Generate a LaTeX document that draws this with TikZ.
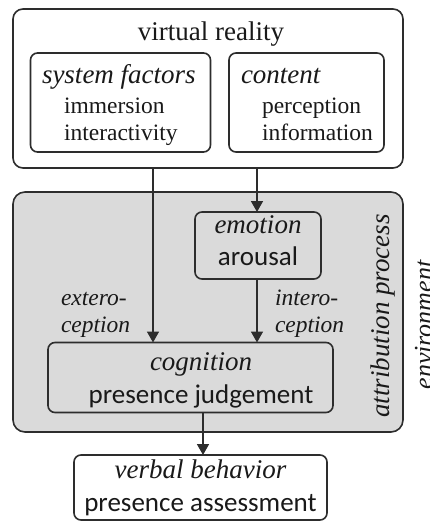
\documentclass[tikz,border=0pt]{standalone}
\usepackage{fontspec}
\setmainfont{Liberation Serif}
\newfontfamily\calib{Carlito}
\usetikzlibrary{arrows.meta}
\definecolor{ln}{RGB}{45,45,45}
\definecolor{gfill}{RGB}{218,218,218}
\definecolor{tx}{RGB}{25,25,25}
\tikzset{
  box/.style={draw=ln, line width=1.6pt, rounded corners=7pt, inner sep=0pt, outer sep=0pt},
  txt/.style={inner sep=0pt, outer sep=0pt, text=tx, font=\fontsize{27}{30}\selectfont},
  itm/.style={txt, font=\fontsize{23.5}{28}\selectfont},
  itx/.style={txt, font=\fontsize{27}{30}\selectfont\itshape},
  stx/.style={txt, font=\fontsize{27}{30}\selectfont\calib},
  lbl/.style={txt, font=\fontsize{23.5}{28}\selectfont\itshape},
  arr/.style={draw=ln, line width=1.6pt, -{Triangle[width=12pt,length=11pt]}},
}
\begin{document}
\begin{tikzpicture}[x=1pt,y=-1pt]
\useasboundingbox (0,0) rectangle (429,522);
% boxes
\node[box, rounded corners=10pt, fill=white, minimum width=390pt, minimum height=159pt] (vr) at (208,88.5) {};
\node[box, minimum width=180pt, minimum height=99pt] (sf) at (120.5,102.5) {};
\node[box, minimum width=155pt, minimum height=99pt] (ct) at (306.5,102.5) {};
\node[box, rounded corners=12pt, fill=gfill, minimum width=390pt, minimum height=240pt] (ap) at (208,312) {};
\node[box, minimum width=126pt, minimum height=67pt] (emo) at (258,245.5) {};
\node[box, minimum width=285pt, minimum height=70pt] (cog) at (190.5,377.5) {};
\node[box, fill=white, minimum width=253pt, minimum height=65pt] (vb) at (200.5,487.5) {};
% texts
\node[txt, anchor=base] (t1) at (211,40) {virtual reality};
\node[itx, anchor=base west] (t2) at (42,83) {system factors};
\node[itm, anchor=base west] (t3) at (64,113) {immersion};
\node[itm, anchor=base west] (t4) at (64,140) {interactivity};
\node[itx, anchor=base west] (t5) at (241,83) {content};
\node[itm, anchor=base west] (t6) at (262,113) {perception};
\node[itm, anchor=base west] (t7) at (262,140) {information};
\node[itx, anchor=base] (t8) at (258,233) {emotion};
\node[stx, anchor=base] (t9) at (258,265) {arousal};
\node[lbl, anchor=base west] (t10) at (61,305) {extero-};
\node[lbl, anchor=base west] (t11) at (61,332) {ception};
\node[lbl, anchor=base west] (t12) at (275,305) {intero-};
\node[lbl, anchor=base west] (t13) at (275,332) {ception};
\node[itx, anchor=base] (t14) at (201,370) {cognition};
\node[stx, anchor=base] (t15) at (201,403) {presence judgement};
\node[itx, anchor=base] (t16) at (200.5,478) {verbal behavior};
\node[stx, anchor=base] (t17) at (200.5,511) {presence assessment};
\node[itx, rotate=90, anchor=base] (t18) at (389,316) {attribution process};
\node[itx, rotate=90, anchor=base, font=\fontsize{26}{30}\selectfont\itshape] (t19) at (432,325) {environment};
% connectors
\draw[arr] (vr.south -| 153,0) -- (cog.north -| 153,0);
\draw[arr] (vr.south -| 257,0) -- (emo.north -| 257,0);
\draw[arr] (emo.south -| 257,0) -- (cog.north -| 257,0);
\draw[arr] (cog.south -| 203,0) -- (vb.north -| 203,0);
\end{tikzpicture}
\end{document}
